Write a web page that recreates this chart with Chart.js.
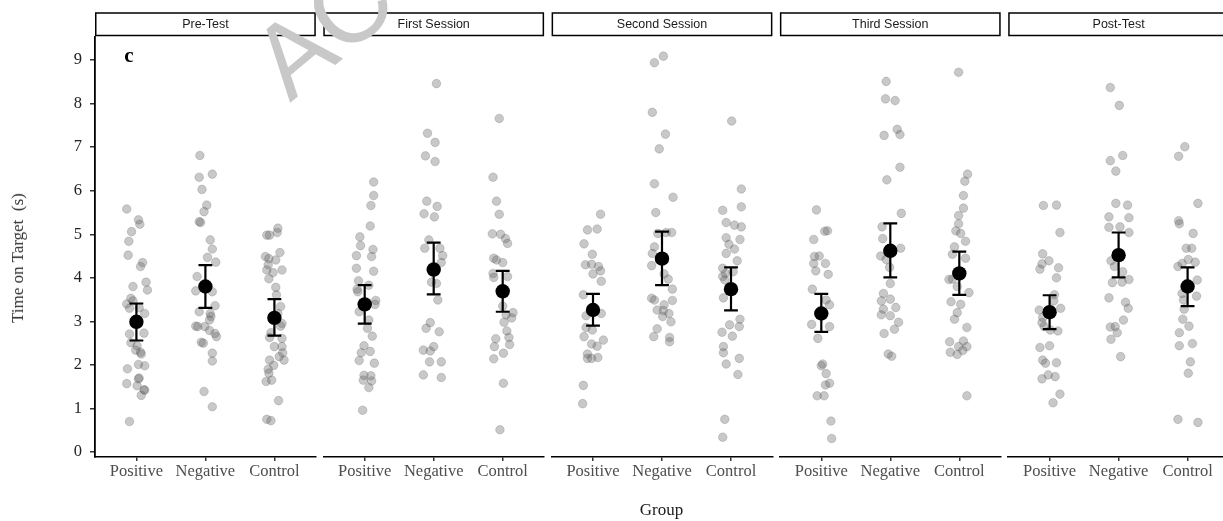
<!DOCTYPE html>
<html>
<head>
<meta charset="utf-8">
<script src="https://cdn.jsdelivr.net/npm/chart.js@4.4.1/dist/chart.umd.min.js"></script>
<style>
html,body{margin:0;padding:0;background:#fff;overflow:hidden;width:1223px;height:521px;}
#wrap{position:relative;width:1223px;height:521px;overflow:hidden;background:#fff;}
canvas.panel{position:absolute;top:0;left:0;}
.lbl{position:absolute;font-family:"Liberation Serif","Times New Roman",serif;white-space:nowrap;transform:translate(-50%,-50%);}
</style>
</head>
<body>
<div id="wrap">
  <canvas class="panel" id="p0" width="1240" height="521"></canvas>
  <canvas class="panel" id="p1" width="1240" height="521"></canvas>
  <canvas class="panel" id="p2" width="1240" height="521"></canvas>
  <canvas class="panel" id="p3" width="1240" height="521"></canvas>
  <canvas class="panel" id="p4" width="1240" height="521"></canvas>
  <div class="lbl" style="left:17.5px;top:258px;font-size:17px;color:#333;transform:translate(-50%,-50%) rotate(-90deg);">Time on Target&nbsp; (s)</div>
  <div class="lbl" style="left:661.5px;top:510px;font-size:17px;color:#1a1a1a;">Group</div>
  <div class="lbl" style="left:129px;top:55px;font-size:21px;font-weight:bold;color:#000;">c</div>
  <svg style="position:absolute;left:0;top:0;width:1223px;height:521px;pointer-events:none;" width="1223" height="521">
    <text x="0" y="0" transform="translate(290,103) rotate(-40)" font-family="Liberation Sans, Arial, sans-serif" font-size="104" fill="#c8c8c8">ACCEPTED MANUSCRIPT</text>
  </svg>
</div>
<script>
// ---------- DATA ----------
const sessions = ['Pre-Test', 'First Session', 'Second Session', 'Third Session', 'Post-Test'];
const categories = ['Positive', 'Negative', 'Control'];
const yTicks = [0, 1, 2, 3, 4, 5, 6, 7, 8, 9];

// individual observations (seconds) and horizontal jitter (category units)
const preTestPositive = [5.58,5.33,5.23,5.06,4.84, 4.52,4.35,4.26,3.90,3.72, 3.80,3.53,3.40,3.47,3.30, 3.18,3.31,2.71,2.73,2.51, 2.44,2.34,2.29,2.25,2.01, 1.98,1.91,1.70,1.68,1.57, 1.52,1.43,1.42,1.30,0.70];
const preTestPositiveJitter = [-.14,.03,.05,-.07,-.11, -.12,.09,.06,.14,.16, -.05,-.08,-.14,-.05,-.10, .12,.04,-.10,.11,-.08, .01,-.01,.06,.07,.03, .12,-.13,.04,.03,-.14, .01,.11,.12,.07,-.10];
const preTestNegative = [6.81,6.38,6.31,6.03,5.67, 5.52,5.29,5.27,4.87,4.66, 4.47,4.36,4.03,3.70,3.68, 3.36,3.22,3.18,3.11,3.03, 2.89,2.88,2.88,2.79,2.72, 2.65,2.52,2.50,2.27,2.09, 1.39,1.04];
const preTestNegativeJitter = [-.08,.10,-.09,-.05,.02, -.02,-.09,-.07,.07,.10, .03,.15,-.12,-.14,.10, .14,-.09,.07,.08,.06, -.14,-.11,-.01,.06,.14, .16,-.06,-.03,.10,.10, -.02,.10];
const preTestControl = [5.14,5.04,4.98,4.98,4.58, 4.49,4.44,4.41,4.30,4.18, 4.18,4.12,3.98,3.78,3.61, 3.34,3.18,2.95,2.89,2.74, 2.63,2.61,2.42,2.42,2.28, 2.19,2.11,2.11,1.99,1.90, 1.81,1.62,1.65,1.18,0.75, 0.72];
const preTestControlJitter = [.05,.04,-.11,-.07,.08, -.13,-.08,.02,-.09,-.11, .11,-.02,-.08,.02,.03, .09,.05,.11,.09,-.05, -.07,.11,.00,.11,.12, .07,.14,-.07,-.01,-.09, -.08,-.12,-.04,.06,-.11, -.05];

const firstPositive = [6.20,5.89,5.66,5.19,4.94, 4.74,4.65,4.51,4.49,4.22, 4.15,3.93,3.83,3.74,3.68, 3.48,3.39,3.22,3.03,2.84, 2.66,2.44,2.28,2.31,2.10, 2.04,1.76,1.75,1.65,1.63, 1.48,0.96];
const firstPositiveJitter = [.13,.13,.09,.08,-.07, -.06,.12,-.12,.10,-.12, .13,-.09,.06,-.11,-.10, .16,.15,-.08,.06,.04, .11,-.01,-.05,.08,-.08, .14,-.01,.09,-.02,.10, .06,-.03];
const firstNegative = [8.46,7.32,7.11,6.80,6.67, 5.76,5.64,5.47,5.40,4.87, 4.68,4.68,4.51,4.35,3.90, 3.87,3.49,2.97,2.84,2.76, 2.42,2.34,2.32,2.07,2.07, 1.77,1.71];
const firstNegativeJitter = [.04,-.09,.02,-.12,.02, -.10,.05,-.14,.01,-.07, -.13,.09,.13,.11,-.03, .04,.06,-.05,-.11,.08, .00,-.15,-.05,-.06,.11, -.15,.11];
const firstControl = [7.66,6.31,5.76,5.46,5.01, 5.00,4.90,4.79,4.45,4.41, 4.35,4.10,4.01,4.03,3.35, 3.20,3.08,3.15,2.98,2.78, 2.60,2.63,2.42,2.47,2.27, 2.14,1.58,0.51];
const firstControlJitter = [-.05,-.14,-.09,-.05,-.15, -.03,.04,.07,-.13,-.09, .00,-.14,-.13,.07,.00, .15,.13,.05,.02,.06, -.10,.09,-.12,.10,.01, -.13,.01,-.04];

const secondPositive = [5.46,5.10,5.12,4.78,4.54, 4.30,4.31,4.26,4.16,4.09, 3.92,3.61,3.13,3.18,2.86, 2.80,2.65,2.57,2.48,2.43, 2.25,2.15,2.15,2.17,1.53, 1.11];
const secondPositiveJitter = [.11,-.08,.06,-.13,-.01, -.11,-.02,.08,.11,.00, .12,-.14,-.10,.12,-.10, -.01,-.13,.15,-.02,.06, -.08,-.08,-.02,.07,-.14, -.15];
const secondNegative = [9.09,8.94,7.80,7.30,6.96, 6.16,5.85,5.50,5.02,5.04, 5.04,4.71,4.56,4.28,4.09, 3.97,3.74,3.53,3.49,3.48, 3.38,3.26,3.25,3.18,3.11, 2.99,2.83,2.65,2.63,2.53];
const secondNegativeJitter = [.02,-.11,-.14,.05,-.04, -.11,.16,-.09,-.06,.06, .14,-.11,-.14,-.15,.03, .09,.15,-.15,-.11,.15, .03,-.07,.02,.10,.01, .13,-.07,-.12,.11,.11];
const secondControl = [7.60,6.04,5.63,5.55,5.27, 5.21,5.17,4.92,4.88,4.77, 4.66,4.56,4.39,4.22,4.10, 4.14,4.03,3.95,3.54,3.05, 2.92,2.88,2.75,2.66,2.42, 2.28,2.15,2.02,1.78,0.75, 0.34];
const secondControlJitter = [.01,.15,.15,-.12,-.07, .05,.15,-.07,.13,-.03, .05,-.07,.09,-.12,-.08, .03,-.12,-.09,-.11,.13, -.02,.12,-.13,.02,-.11, -.11,.12,-.07,.10,-.09, -.12];

const thirdPositive = [5.56,5.07,5.08,4.88,4.50, 4.49,4.33,4.33,4.16,4.08, 3.74,3.49,3.38,2.93,2.88, 2.61,2.02,1.98,1.80,1.58, 1.54,1.29,1.29,0.71,0.31];
const thirdPositiveJitter = [-.07,.05,.09,-.11,-.03, -.10,-.11,.06,-.08,.10, -.13,.07,.12,-.14,.12, -.05,.02,.00,.07,.12, .06,-.06,.04,.14,.15];
const thirdNegative = [8.51,8.11,8.07,7.41,7.27, 7.29,6.54,6.25,5.48,5.17, 4.90,4.68,4.50,4.42,4.24, 3.87,3.64,3.47,3.51,3.32, 3.28,3.15,3.13,2.98,2.82, 2.72,2.25,2.20];
const thirdNegativeJitter = [-.06,-.07,.07,.10,-.09, .14,.14,-.05,.16,-.12, -.11,.15,-.14,-.06,-.01, .00,-.10,-.13,.00,.08, -.10,-.13,.00,.12,.06, -.09,-.03,.02];
const thirdControl = [8.72,6.38,6.22,5.89,5.60, 5.43,5.24,5.08,5.02,4.84, 4.71,4.54,4.45,3.96,3.97, 3.80,3.66,3.45,3.39,3.20, 3.05,2.86,2.53,2.55,2.42, 2.42,2.33,2.29,2.24,1.29];
const thirdControlJitter = [-.01,.12,.08,.06,.06, -.01,-.01,-.05,.02,.09, -.07,-.10,.09,-.15,-.10, -.03,.14,-.12,.02,-.03, -.07,.11,-.14,.06,-.01, .11,.05,-.13,-.03,.11];

const postTestPositive = [5.66,5.67,5.04,4.55,4.39, 4.32,4.20,4.23,4.00,3.61, 3.47,3.26,3.30,3.09,2.97, 2.88,2.80,2.78,2.40,2.44, 2.11,2.04,2.05,1.77,1.68, 1.73,1.33,1.13];
const postTestPositiveJitter = [-.09,.10,.15,-.10,-.01, -.11,-.14,.13,.10,.07, .06,-.15,.16,-.10,-.11, -.08,.01,.12,-.14,.00, -.10,-.06,.10,-.02,-.11, .08,.15,.05];
const postTestNegative = [8.37,7.96,6.81,6.69,6.45, 5.71,5.67,5.40,5.38,5.16, 5.17,5.04,4.39,4.26,4.14, 3.89,3.90,3.96,3.54,3.44, 3.30,3.03,2.87,2.88,2.74, 2.59,2.19];
const postTestNegativeJitter = [-.12,.01,.06,-.12,-.04, -.04,.13,-.14,.15,-.14, .02,.15,-.11,-.06,.06, -.09,.05,.15,-.14,.10, .14,.07,-.12,-.05,-.02, -.11,.03];
const postTestControl = [7.01,6.79,5.71,5.31,5.24, 5.02,4.68,4.68,4.26,4.33, 4.42,4.36,3.95,3.87,3.64, 3.58,3.49,3.28,3.05,2.89, 2.74,2.49,2.44,2.07,1.81, 0.75,0.68];
const postTestControlJitter = [-.04,-.13,.15,-.13,-.12, .08,-.02,.06,-.14,-.08, .01,.11,.14,-.01,-.08, .13,-.06,-.05,-.07,.02, -.12,.07,-.12,.04,.01, -.14,.15];

// group means and error-bar limits (Positive, Negative, Control)
const preTestMean = [2.99, 3.80, 3.08];
const preTestLow  = [2.56, 3.31, 2.67];
const preTestHigh = [3.41, 4.29, 3.51];
const firstMean = [3.39, 4.19, 3.69];
const firstLow  = [2.95, 3.62, 3.22];
const firstHigh = [3.83, 4.81, 4.16];
const secondMean = [3.26, 4.44, 3.74];
const secondLow  = [2.90, 3.83, 3.25];
const secondHigh = [3.63, 5.06, 4.24];
const thirdMean = [3.18, 4.62, 4.10];
const thirdLow  = [2.76, 4.01, 3.61];
const thirdHigh = [3.63, 5.25, 4.60];
const postTestMean = [3.21, 4.52, 3.80];
const postTestLow  = [2.82, 4.01, 3.35];
const postTestHigh = [3.60, 5.04, 4.24];

// ---------- assembly ----------
const panelObs = [
  [[preTestPositive, preTestPositiveJitter], [preTestNegative, preTestNegativeJitter], [preTestControl, preTestControlJitter]],
  [[firstPositive, firstPositiveJitter], [firstNegative, firstNegativeJitter], [firstControl, firstControlJitter]],
  [[secondPositive, secondPositiveJitter], [secondNegative, secondNegativeJitter], [secondControl, secondControlJitter]],
  [[thirdPositive, thirdPositiveJitter], [thirdNegative, thirdNegativeJitter], [thirdControl, thirdControlJitter]],
  [[postTestPositive, postTestPositiveJitter], [postTestNegative, postTestNegativeJitter], [postTestControl, postTestControlJitter]]
];
const panelStats = [
  [preTestMean, preTestLow, preTestHigh],
  [firstMean, firstLow, firstHigh],
  [secondMean, secondLow, secondHigh],
  [thirdMean, thirdLow, thirdHigh],
  [postTestMean, postTestLow, postTestHigh]
];

// layout constants
const CANVAS_W = 1240;
const PANEL_LEFT0 = 95, PANEL_STEP = 228.3, PANEL_W = 220.8;
const PLOT_TOP = 37, AXIS_H = 64;
const Y_MIN = -0.115, Y_MAX = 9.53;
const CAP = 0.1;
const serif = '"Liberation Serif", "Times New Roman", serif';

const stripPlugin = {
  id: 'strip',
  afterDraw(chart, args, opts) {
    const {ctx, chartArea: a} = chart;
    ctx.save();
    const top = a.top - 24, h = 22.5;
    ctx.fillStyle = '#fff';
    ctx.fillRect(a.left + 0.75, top, a.right - a.left - 1.5, h);
    ctx.strokeStyle = '#000';
    ctx.lineWidth = 1.5;
    ctx.strokeRect(a.left + 0.75, top, a.right - a.left - 1.5, h);
    ctx.font = '12.5px "Liberation Sans", Arial, sans-serif';
    ctx.fillStyle = '#1a1a1a';
    ctx.textAlign = 'center';
    ctx.textBaseline = 'middle';
    ctx.fillText(opts.text, (a.left + a.right) / 2, top + h / 2 + 0.5);
    ctx.restore();
  }
};

sessions.forEach((name, i) => {
  const left = PANEL_LEFT0 + PANEL_STEP * i;
  const datasets = [];
  panelObs[i].forEach(([vals, jit], c) => {
    datasets.push({
      type: 'scatter',
      data: vals.map((v, k) => ({x: c + 1 + jit[k], y: v})),
      backgroundColor: 'rgba(95,95,95,0.34)',
      borderColor: 'rgba(70,70,70,0.30)',
      borderWidth: 0.7,
      pointRadius: 4.3,
      order: 3
    });
  });
  const [mean, lo, hi] = panelStats[i];
  categories.forEach((cat, c) => {
    const cx = c + 1;
    const lineDs = pts => ({
      type: 'line', data: pts, showLine: true, pointRadius: 0,
      borderColor: '#000', borderWidth: 2.2, fill: false, order: 2
    });
    datasets.push(lineDs([{x: cx, y: lo[c]}, {x: cx, y: hi[c]}]));
    datasets.push(lineDs([{x: cx - CAP, y: hi[c]}, {x: cx + CAP, y: hi[c]}]));
    datasets.push(lineDs([{x: cx - CAP, y: lo[c]}, {x: cx + CAP, y: lo[c]}]));
  });
  datasets.push({
    type: 'scatter',
    data: mean.map((m, c) => ({x: c + 1, y: m})),
    backgroundColor: '#000', borderWidth: 0, pointRadius: 7.2, order: 1
  });

  const yScale = {
    type: 'linear', min: Y_MIN, max: Y_MAX,
    display: i === 0,
    afterBuildTicks: s => { s.ticks = yTicks.map(v => ({value: v})); },
    ticks: {font: {family: serif, size: 16.5}, color: '#222', padding: 8},
    grid: {drawOnChartArea: false, drawTicks: true, tickLength: 5, color: '#333', lineWidth: 1.5},
    border: {display: true, color: '#000', width: 1.8}
  };
  if (i === 0) yScale.afterFit = s => { s.width = PANEL_LEFT0; };

  new Chart(document.getElementById('p' + i), {
    type: 'scatter',
    data: {datasets},
    plugins: [stripPlugin],
    options: {
      responsive: false,
      animation: false,
      events: [],
      layout: {padding: {
        left: i === 0 ? 0 : left,
        right: CANVAS_W - left - PANEL_W,
        top: PLOT_TOP, bottom: 0
      }},
      plugins: {legend: {display: false}, tooltip: {enabled: false}, strip: {text: name}},
      scales: {
        x: {
          type: 'linear', min: 0.4, max: 3.6,
          afterBuildTicks: s => { s.ticks = categories.map((_, c) => ({value: c + 1})); },
          afterFit: s => { s.height = AXIS_H; },
          ticks: {
            callback: v => categories[Math.round(v) - 1],
            font: {family: serif, size: 16.5}, color: '#4d4d4d', padding: 1,
            autoSkip: false, maxRotation: 0
          },
          grid: {drawOnChartArea: false, drawTicks: true, tickLength: 4, color: '#333', lineWidth: 1.5},
          border: {display: true, color: '#000', width: 1.6}
        },
        y: yScale
      }
    }
  });
});
</script>
</body>
</html>
